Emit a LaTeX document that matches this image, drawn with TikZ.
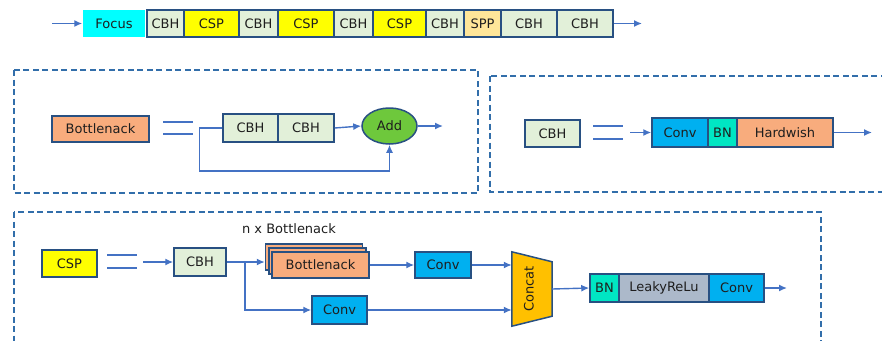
\documentclass[tikz,border=0pt]{standalone}
\usepackage{fontspec}
\setmainfont{DejaVu Sans}
\usetikzlibrary{arrows.meta,shapes.geometric}
\definecolor{bordc}{RGB}{40,80,130}
\definecolor{arrc}{RGB}{68,114,196}
\definecolor{dashc}{RGB}{50,110,170}
\definecolor{cbhfill}{RGB}{226,240,217}
\definecolor{yel}{RGB}{255,255,0}
\definecolor{focusc}{RGB}{0,255,255}
\definecolor{sppc}{RGB}{255,230,153}
\definecolor{salmon}{RGB}{248,172,125}
\definecolor{convc}{RGB}{0,176,240}
\definecolor{bnc}{RGB}{0,230,195}
\definecolor{leakyc}{RGB}{172,185,202}
\definecolor{addc}{RGB}{110,200,60}
\definecolor{concatc}{RGB}{255,192,0}
\definecolor{txtc}{RGB}{30,30,30}
\tikzset{
  blk/.style={draw=bordc, line width=1.5pt, inner sep=0pt, text=txtc, font=\fontsize{13}{15}\selectfont},
  cbh/.style={blk, fill=cbhfill},
  csp/.style={blk, fill=yel},
  conv/.style={blk, fill=convc},
  bnbox/.style={blk, fill=bnc},
  salm/.style={blk, fill=salmon},
  arr/.style={draw=arrc, line width=1.4pt, -{Latex[length=8pt,width=7pt]}},
  panel/.style={draw=dashc, line width=1.4pt, dash pattern=on 6pt off 3.5pt},
  eqs/.style={draw=arrc, line width=1.2pt},
}
\begin{document}
\begin{tikzpicture}[x=1pt,y=-1pt]
\useasboundingbox (0,0) rectangle (882,340);
\clip (0,0) rectangle (882,340);
% ---------- top row ----------
\node[blk, draw=none, fill=focusc, minimum width=62pt, minimum height=27pt] (focus) at (114,23.5) {Focus};
\node[cbh, minimum width=37pt, minimum height=27pt] (t1) at (165.5,23.5) {CBH};
\node[csp, minimum width=55pt, minimum height=27pt] (t2) at (211.5,23.5) {CSP};
\node[cbh, minimum width=39pt, minimum height=27pt] (t3) at (258.5,23.5) {CBH};
\node[csp, minimum width=56pt, minimum height=27pt] (t4) at (306,23.5) {CSP};
\node[cbh, minimum width=39pt, minimum height=27pt] (t5) at (353.5,23.5) {CBH};
\node[csp, minimum width=53pt, minimum height=27pt] (t6) at (399.5,23.5) {CSP};
\node[cbh, minimum width=38pt, minimum height=27pt] (t7) at (445,23.5) {CBH};
\node[blk, fill=sppc, minimum width=37pt, minimum height=27pt] (t8) at (482.5,23.5) {SPP};
\node[cbh, minimum width=56pt, minimum height=27pt] (t9) at (529,23.5) {CBH};
\node[cbh, minimum width=56pt, minimum height=27pt] (t10) at (585,23.5) {CBH};
\coordinate (tin) at (52,23.5);
\coordinate (tout) at (642,23.5);
\draw[arr] (tin) -- (focus.west);
\draw[arr] (t10.east) -- (tout);
% ---------- panel 1 ----------
\draw[panel] (14,70) rectangle (478,193);
\node[salm, minimum width=97pt, minimum height=26pt] (bn1) at (100.5,129) {Bottlenack};
\draw[eqs] (163,122) -- (193,122);
\draw[eqs] (163,134) -- (193,134);
\node[cbh, minimum width=55pt, minimum height=28pt] (p1a) at (250.5,128) {CBH};
\node[cbh, minimum width=56pt, minimum height=28pt] (p1b) at (306,128) {CBH};
\node[ellipse, draw=bordc, line width=1.5pt, fill=addc, minimum width=55pt, minimum height=36pt, inner sep=0pt, text=txtc, font=\fontsize{13}{15}\selectfont] (add) at (389.5,126) {Add};
\coordinate (p1out) at (443,126);
\draw[arr] (p1b.east) -- (add.west);
\draw[arr] (add.east) -- (p1out);
\draw[arr] (p1a.west) -- ++(-23,0) -- ++(0,43) -| (add.south);
% ---------- panel 2 ----------
\draw[panel] (490,76) rectangle (900,192);
\node[cbh, minimum width=55pt, minimum height=27pt] (p2c) at (552.5,133.5) {CBH};
\draw[eqs] (593,126) -- (623,126);
\draw[eqs] (593,139) -- (623,139);
\node[conv, minimum width=56pt, minimum height=29pt] (p2conv) at (680,132.5) {Conv};
\node[bnbox, minimum width=29pt, minimum height=29pt] (p2bn) at (722.5,132.5) {BN};
\node[salm, minimum width=96pt, minimum height=29pt] (p2h) at (785,132.5) {Hardwish};
\coordinate (p2in) at (630,132.5);
\coordinate (p2out) at (872,132.5);
\draw[arr] (p2in) -- (p2conv.west);
\draw[arr] (p2h.east) -- (p2out);
% ---------- panel 3 ----------
\draw[panel] (14,212) rectangle (821,360);
\node[csp, minimum width=55pt, minimum height=27pt] (p3csp) at (69.5,263.5) {CSP};
\draw[eqs] (107,255) -- (137,255);
\draw[eqs] (107,268) -- (137,268);
\node[cbh, minimum width=52pt, minimum height=28pt] (p3cbh) at (200,262) {CBH};
\coordinate (p3in) at (143,262);
\draw[arr] (p3in) -- (p3cbh.west);
\node[text=txtc, font=\fontsize{13}{15}\selectfont, inner sep=0pt] (nlab) at (289,229) {n x Bottlenack};
\node[salm, minimum width=97pt, minimum height=26pt] (bk1) at (314,257) {};
\node[salm, minimum width=97pt, minimum height=26pt] (bk2) at (317.5,261) {};
\node[salm, minimum width=97pt, minimum height=26pt] (bk3) at (320.5,265) {Bottlenack};
\node[conv, minimum width=56pt, minimum height=26pt] (p3conv1) at (443,265) {Conv};
\node[conv, minimum width=55pt, minimum height=28pt] (p3conv2) at (339.5,310) {Conv};
\coordinate (br) at (245,262);
\draw[arr] (p3cbh.east) -- (bk1.west |- p3cbh.east);
\draw[arr] (br) |- (p3conv2.west);
\draw[arr] (bk3.east) -- (p3conv1.west);
% concat
\node[minimum width=40pt, minimum height=74pt, inner sep=0pt] (concat) at (532,289) {};
\draw[draw=bordc, line width=1.5pt, fill=concatc] (concat.north west) -- ([yshift=-10pt]concat.north east) -- ([yshift=10pt]concat.south east) -- (concat.south west) -- cycle;
\node[rotate=90, text=txtc, font=\fontsize{13}{15}\selectfont, inner sep=0pt] (concattxt) at (529,289) {Concat};
\draw[arr] (p3conv1.east) -- (concat.west |- p3conv1.east);
\draw[arr] (p3conv2.east) -- (concat.west |- p3conv2.east);
\node[bnbox, minimum width=29pt, minimum height=28pt] (p3bn) at (604.5,288) {BN};
\node[blk, fill=leakyc, minimum width=90pt, minimum height=28pt] (p3lk) at (664,288) {LeakyReLu};
\node[conv, minimum width=55pt, minimum height=28pt] (p3conv3) at (736.5,288) {Conv};
\coordinate (p3out) at (787,288);
\draw[arr] (concat.east) -- (p3bn.west);
\draw[arr] (p3conv3.east) -- (p3out);
\end{tikzpicture}
\end{document}
